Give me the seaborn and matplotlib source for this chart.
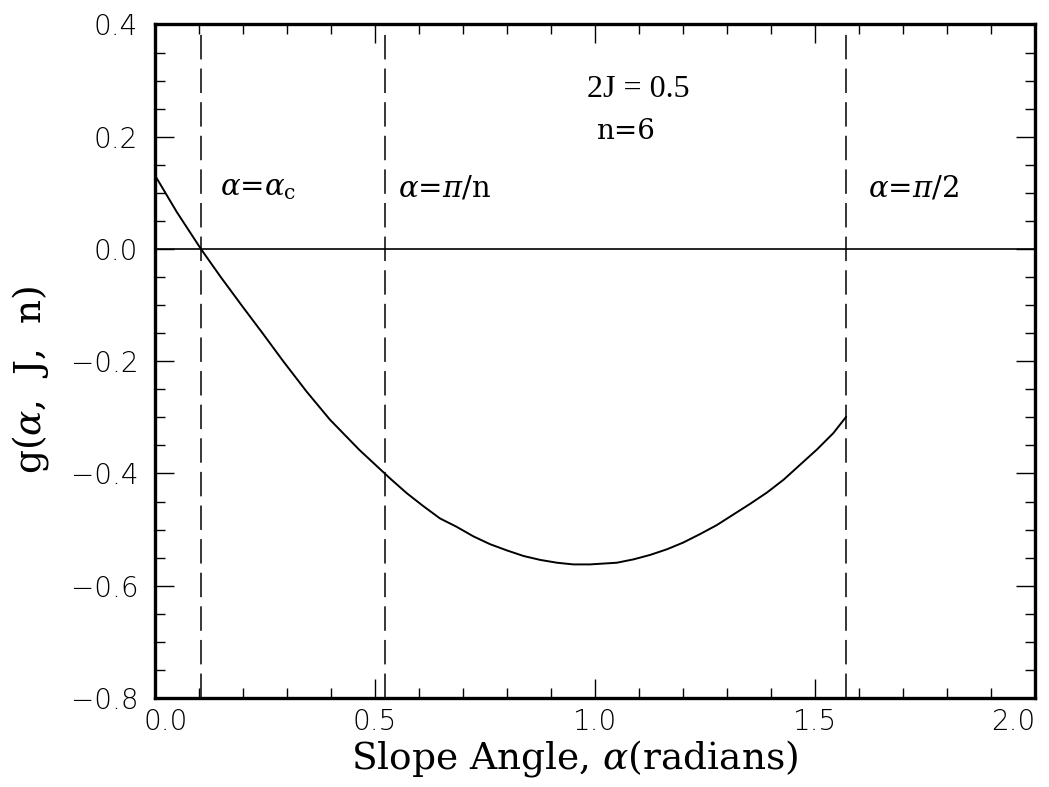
import numpy as np
import pandas as pd
import matplotlib
matplotlib.use("Agg")
import matplotlib.pyplot as plt
import matplotlib.transforms as mtransforms
from matplotlib.ticker import MultipleLocator
import seaborn as sns

# g(alpha, J, n) for 2J = 0.5, n = 6, sampled along the slope angle
alpha = [0.0, 0.05, 0.105, 0.15, 0.198, 0.245, 0.292, 0.345, 0.398, 0.465,
         0.535, 0.5725, 0.610, 0.648, 0.686, 0.724, 0.762, 0.800, 0.838,
         0.876, 0.914, 0.951, 0.989, 1.050, 1.088, 1.126, 1.164, 1.201,
         1.239, 1.277, 1.315, 1.353, 1.391, 1.429, 1.467, 1.505, 1.542, 1.571]
g_val = [0.132, 0.066, 0.0, -0.050, -0.101, -0.150, -0.200, -0.254, -0.304,
         -0.358, -0.409, -0.435, -0.458, -0.480, -0.495, -0.512, -0.526,
         -0.537, -0.547, -0.554, -0.559, -0.562, -0.562, -0.559, -0.553,
         -0.545, -0.535, -0.523, -0.508, -0.492, -0.473, -0.454, -0.434,
         -0.411, -0.384, -0.357, -0.328, -0.299]

# reference angles: critical angle, pi/n and pi/2
ref_angles = [0.1045, np.pi / 6, np.pi / 2]
ref_labels = [r"$\alpha$=$\alpha_{\rm c}$", r"$\alpha$=$\pi$/n", r"$\alpha$=$\pi$/2"]

x_ticks = [0.0, 0.5, 1.0, 1.5, 2.0]
x_tick_labels = ["0.0", "0.5", "1.0", "1.5", "2.0"]
y_ticks = [0.4, 0.2, 0.0, -0.2, -0.4, -0.6, -0.8]
y_tick_labels = ["0.4", "0.2", "0.0", "\u22120.2", "\u22120.4", "\u22120.6", "\u22120.8"]

sns.set_style("ticks")
plt.rcParams["font.family"] = ["DejaVu Sans"]
plt.rcParams["mathtext.fontset"] = "dejavuserif"
plt.rcParams["text.color"] = "black"
plt.rcParams["axes.labelcolor"] = "black"
plt.rcParams["xtick.color"] = "black"
plt.rcParams["ytick.color"] = "black"

fig = plt.figure(figsize=(10.49, 7.87), dpi=100)
ax = fig.add_axes([0.1475, 0.1131, 0.8391, 0.8558])

df = pd.DataFrame({"alpha": alpha, "g": g_val})
sns.lineplot(data=df, x="alpha", y="g", ax=ax, color="black", linewidth=1.4,
             sort=False, estimator=None)

ax.axhline(0.0, color="black", linewidth=1.2)
for a in ref_angles:
    ax.axvline(a, color="black", linewidth=1.1, dashes=(16, 6))

ax.set_xlim(0.0, 2.0)
ax.set_ylim(-0.8, 0.4)

ax.xaxis.set_minor_locator(MultipleLocator(0.1))
ax.yaxis.set_minor_locator(MultipleLocator(0.05))
ax.set_xticks(x_ticks)
ax.set_xticklabels(x_tick_labels)
ax.set_yticks(y_ticks)
ax.set_yticklabels(y_tick_labels)

ax.tick_params(which="both", direction="in", top=True, right=True,
               color="black", width=1.0)
ax.tick_params(which="major", length=14, labelsize=20, pad=7)
ax.tick_params(which="minor", length=7)
ax.tick_params(axis="y", which="major", pad=12)

for lab in ax.get_xticklabels() + ax.get_yticklabels():
    lab.set_fontweight("light")
    lab.set_color("black")

# keep the end labels inside the frame
xl = ax.get_xticklabels()
xl[0].set_transform(xl[0].get_transform() +
                    mtransforms.ScaledTranslation(0.11, 0, fig.dpi_scale_trans))
xl[-1].set_transform(xl[-1].get_transform() +
                     mtransforms.ScaledTranslation(-0.22, 0, fig.dpi_scale_trans))

for sp in ax.spines.values():
    sp.set_linewidth(2.4)
    sp.set_color("black")
    sp.set_visible(True)

ax.set_xlabel(r"Slope Angle, $\alpha$(radians)", family="DejaVu Serif",
              fontsize=27)
ax.xaxis.set_label_coords(0.4776, -0.060)
ax.set_ylabel(r"g($\alpha$,  J,  n)", family="DejaVu Serif", fontsize=27)
ax.yaxis.set_label_coords(-0.118, 0.472)

label_x = [0.148, 0.552, 1.62]
for lx, txt in zip(label_x, ref_labels):
    ax.text(lx, 0.108, txt, family="DejaVu Serif", fontsize=21,
            ha="left", va="center")

ax.text(1.098, 0.285, "2J = 0.5", family="Liberation Serif", fontsize=23,
        ha="center", va="center")
ax.text(1.07, 0.21, "n=6", family="DejaVu Serif", fontsize=20,
        ha="center", va="center")

fig.savefig("out.png", dpi=100)
